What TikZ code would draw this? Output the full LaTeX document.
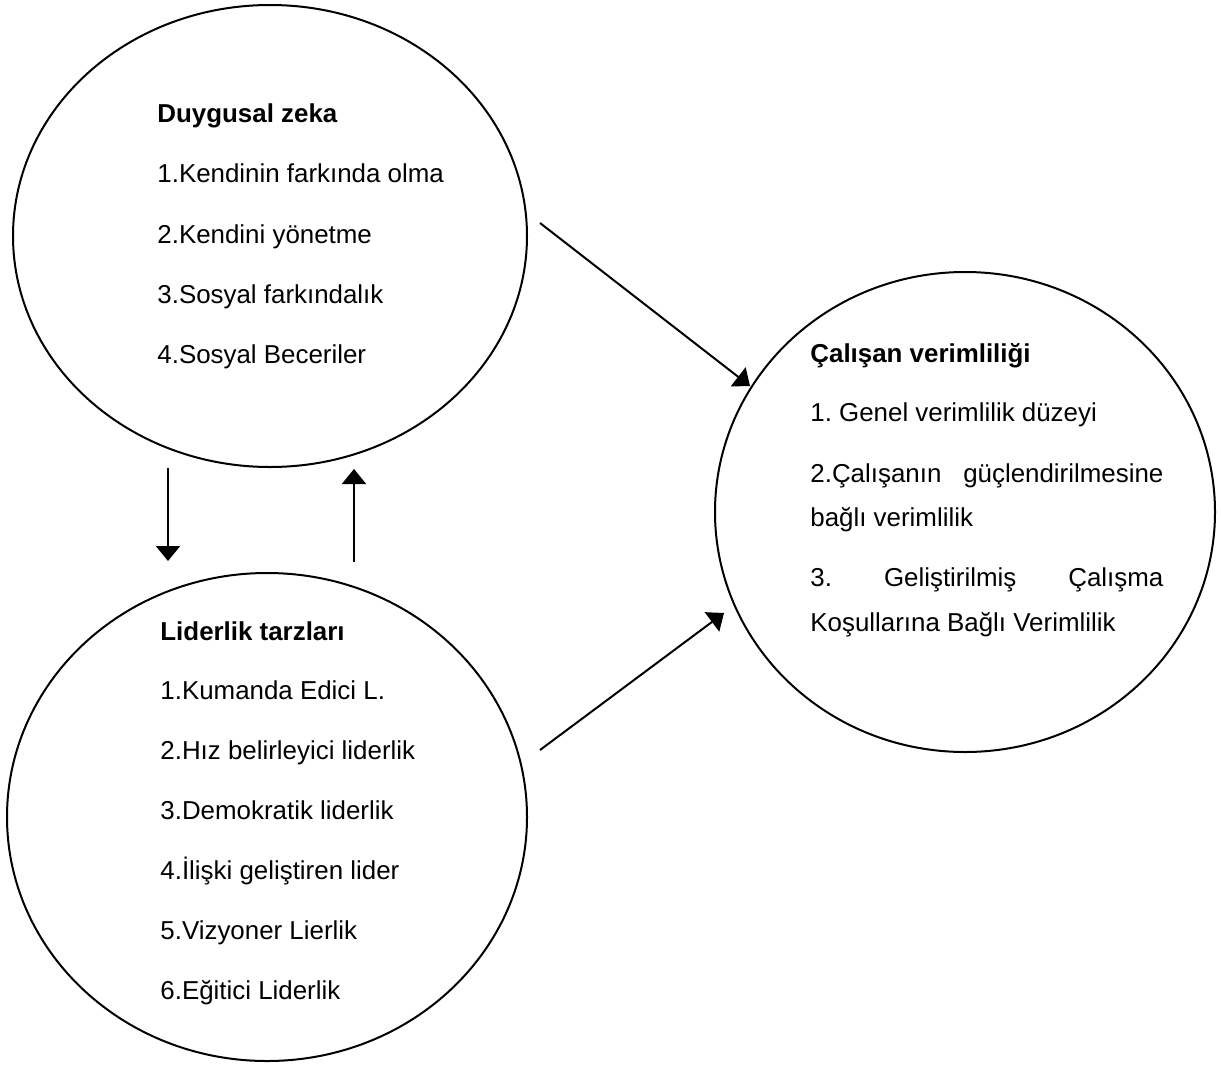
\documentclass[tikz,border=0pt]{standalone}
\usepackage{fontspec}
\setmainfont{Liberation Sans}
\usetikzlibrary{shapes.geometric,arrows.meta}
\frenchspacing
\begin{document}
\begin{tikzpicture}[x=0.5pt,y=-0.5pt,
  bubble/.style={draw,line width=1pt,ellipse,inner sep=0pt},
  txt/.style={anchor=base west,inner sep=0pt,font=\fontsize{12.95pt}{15pt}\selectfont},
  ttl/.style={txt,font=\fontsize{12.95pt}{15pt}\selectfont\bfseries},
  arr/.style={line width=1pt,-{Triangle[length=7.5pt,width=12pt]}}]
\useasboundingbox (0,0) rectangle (1221,1066);
% ellipses
\node[bubble,minimum width=257pt,minimum height=231pt] (dz) at (270,236) {};
\node[bubble,minimum width=260pt,minimum height=244pt] (lt) at (267,817) {};
\node[bubble,minimum width=250pt,minimum height=240pt] (cv) at (965,512) {};
% texts ellipse 1
\node[ttl] (dz0) at (157,122) {Duygusal zeka};
\node[txt] (dz1) at (157,182) {1.Kendinin farkında olma};
\node[txt] (dz2) at (157,243) {2.Kendini yönetme};
\node[txt] (dz3) at (157,303) {3.Sosyal farkındalık};
\node[txt] (dz4) at (157,363) {4.Sosyal Beceriler};
% texts ellipse 2
\node[ttl] (lt0) at (160,640) {Liderlik tarzları};
\node[txt] (lt1) at (160,699) {1.Kumanda Edici L.};
\node[txt] (lt2) at (160,759) {2.Hız belirleyici liderlik};
\node[txt] (lt3) at (160,819) {3.Demokratik liderlik};
\node[txt] (lt4) at (160,879) {4.İlişki geliştiren lider};
\node[txt] (lt5) at (160,939) {5.Vizyoner Lierlik};
\node[txt] (lt6) at (160,999) {6.Eğitici Liderlik};
% texts ellipse 3
\node[ttl] (cv0) at (810,362) {Çalışan verimliliği};
\node[txt] (cv1) at (810,421) {1. Genel verimlilik düzeyi};
\node[txt] (cv2) at (810,482) {\makebox[176.5pt][s]{2.Çalışanın\hfill güçlendirilmesine}};
\node[txt] (cv3) at (810,526) {bağlı verimlilik};
\node[txt] (cv4) at (810,586) {\makebox[176.5pt][s]{3.\hfill Geliştirilmiş\hfill Çalışma}};
\node[txt] (cv5) at (810,631) {Koşullarına Bağlı Verimlilik};
% arrows
\coordinate (a1s) at (540,223);
\coordinate (a1e) at (750,386);
\coordinate (a2s) at (540,750);
\coordinate (a2e) at (724,613);
\coordinate (a3s) at (168,468);
\coordinate (a3e) at (168,561);
\coordinate (a4s) at (354,562);
\coordinate (a4e) at (354,469);
\draw[arr] (a1s) -- (a1e);
\draw[arr] (a2s) -- (a2e);
\draw[arr] (a3s) -- (a3e);
\draw[arr] (a4s) -- (a4e);
\end{tikzpicture}
\end{document}
